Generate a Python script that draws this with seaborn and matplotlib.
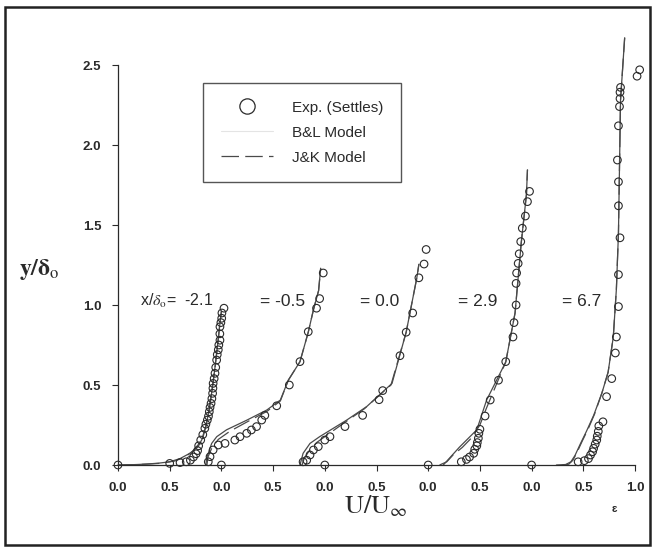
import numpy as np
import pandas as pd
import matplotlib
matplotlib.use("Agg")
import matplotlib.pyplot as plt
from matplotlib.lines import Line2D
from matplotlib.patches import Rectangle
import seaborn as sns

# ---------------- data ----------------
stations = ["-2.1", "-0.5", "0.0", "2.9", "6.7"]
offsets = [0.0, 1.0, 2.0, 3.0, 4.0]

# Experimental (Settles) profiles: U/Uinf and y/delta0
exp_U_1 = [0, 0.50, 0.60, 0.66, 0.70, 0.73, 0.755, 0.77, 0.78, 0.80, 0.82, 0.84, 0.85, 0.864,
           0.875, 0.883, 0.89, 0.90, 0.908, 0.915, 0.918, 0.92, 0.93, 0.938, 0.945, 0.954,
           0.96, 0.97, 0.975, 0.986, 0.985, 0.986, 0.995, 1.003, 1.005, 1.025]
exp_y_1 = [0, 0.01, 0.015, 0.02, 0.03, 0.05, 0.07, 0.09, 0.12, 0.156, 0.19, 0.229, 0.255, 0.281,
           0.305, 0.333, 0.36, 0.385, 0.415, 0.448, 0.48, 0.51, 0.54, 0.573, 0.61, 0.656,
           0.69, 0.72, 0.75, 0.78, 0.82, 0.864, 0.89, 0.917, 0.95, 0.98]
exp_U_2 = [0, -0.127, -0.11, -0.08, -0.03, 0.035, 0.13, 0.18, 0.245, 0.29, 0.34, 0.39, 0.42,
           0.535, 0.657, 0.76, 0.84, 0.92, 0.95, 0.985]
exp_y_2 = [0, 0.02, 0.052, 0.094, 0.125, 0.135, 0.156, 0.177, 0.198, 0.219, 0.24, 0.281, 0.31,
           0.37, 0.5, 0.646, 0.833, 0.98, 1.04, 1.2]
exp_U_3 = [0, -0.21, -0.175, -0.143, -0.11, -0.063, 0.0, 0.05, 0.195, 0.366, 0.525, 0.56,
           0.727, 0.787, 0.85, 0.91, 0.96, 0.98]
exp_y_3 = [0, 0.02, 0.03, 0.0625, 0.094, 0.115, 0.156, 0.177, 0.24, 0.31, 0.408, 0.465,
           0.683, 0.83, 0.95, 1.17, 1.256, 1.347]
exp_U_4 = [0, 0.32, 0.37, 0.40, 0.44, 0.45, 0.47, 0.475, 0.485, 0.49, 0.50, 0.55, 0.60, 0.68,
           0.75, 0.82, 0.83, 0.85, 0.85, 0.855, 0.87, 0.88, 0.895, 0.91, 0.94, 0.96, 0.98]
exp_y_4 = [0, 0.02, 0.035, 0.05, 0.073, 0.098, 0.12, 0.14, 0.167, 0.198, 0.223, 0.306, 0.406,
           0.53, 0.646, 0.80, 0.89, 1.0, 1.135, 1.2, 1.26, 1.32, 1.396, 1.48, 1.556, 1.646, 1.71]
exp_U_5 = [0, 0.45, 0.51, 0.55, 0.57, 0.59, 0.60, 0.615, 0.63, 0.635, 0.645, 0.65, 0.69, 0.725,
           0.775, 0.81, 0.82, 0.84, 0.84, 0.855, 0.84, 0.84, 0.83, 0.84, 0.85, 0.855, 0.855,
           0.86, 1.02, 1.045]
exp_y_5 = [0, 0.02, 0.027, 0.04, 0.0625, 0.083, 0.104, 0.13, 0.156, 0.18, 0.21, 0.244, 0.27,
           0.427, 0.54, 0.70, 0.80, 0.99, 1.19, 1.42, 1.62, 1.77, 1.906, 2.12, 2.24, 2.29, 2.33,
           2.36, 2.43, 2.47]

# B&L model profiles
bl_U_1 = [0, 0.15, 0.28, 0.40, 0.50, 0.60, 0.70, 0.775, 0.82, 0.85, 0.88, 0.91, 0.94, 0.965, 0.985, 1.0]
bl_y_1 = [0, 0.002, 0.006, 0.012, 0.02, 0.04, 0.075, 0.115, 0.17, 0.24, 0.34, 0.47, 0.62, 0.76, 0.88, 0.96]
bl_U_2 = [-0.15, -0.143, -0.094, -0.045, 0.05, 0.245, 0.44, 0.57, 0.647, 0.76, 0.84, 0.89, 0.94, 0.96]
bl_y_2 = [0.0, 0.043, 0.135, 0.177, 0.22, 0.28, 0.344, 0.406, 0.53, 0.646, 0.83, 0.97, 1.09, 1.23]
bl_U_3 = [-0.24, -0.21, -0.143, -0.05, 0.21, 0.405, 0.65, 0.787, 0.89, 0.91]
bl_y_3 = [0.0, 0.073, 0.135, 0.177, 0.28, 0.365, 0.51, 0.83, 1.17, 1.255]
bl_U_4 = [0.146, 0.30, 0.47, 0.565, 0.75, 0.84, 0.90, 0.95, 0.96]
bl_y_4 = [0, 0.11, 0.22, 0.406, 0.644, 0.95, 1.39, 1.69, 1.845]
bl_U_5 = [0.24, 0.33, 0.38, 0.42, 0.47, 0.53, 0.60, 0.68, 0.74, 0.79, 0.82, 0.84, 0.85, 0.86, 0.90]
bl_y_5 = [0, 0.003, 0.02, 0.06, 0.13, 0.21, 0.31, 0.45, 0.58, 0.80, 1.10, 1.45, 1.86, 2.28, 2.67]

# J&K model profiles
jk_U_1 = [0, 0.2, 0.4, 0.55, 0.65, 0.72, 0.78, 0.82, 0.85, 0.88, 0.91, 0.94, 0.965, 0.985, 1.0]
jk_y_1 = [0, 0.003, 0.01, 0.025, 0.05, 0.085, 0.13, 0.18, 0.245, 0.34, 0.47, 0.62, 0.76, 0.88, 0.96]
jk_U_2 = [-0.14, -0.13, -0.09, -0.03, 0.08, 0.25, 0.44, 0.57, 0.647, 0.76, 0.84, 0.89, 0.94, 0.96]
jk_y_2 = [0.0, 0.05, 0.11, 0.16, 0.21, 0.27, 0.335, 0.40, 0.53, 0.646, 0.83, 0.97, 1.09, 1.23]
jk_U_3 = [-0.22, -0.20, -0.15, -0.08, 0.18, 0.38, 0.64, 0.787, 0.89, 0.91]
jk_y_3 = [0.0, 0.04, 0.09, 0.14, 0.26, 0.35, 0.50, 0.83, 1.17, 1.255]
jk_U_4 = [0.11, 0.18, 0.24, 0.33, 0.42, 0.50, 0.56, 0.75, 0.84, 0.90, 0.95, 0.96]
jk_y_4 = [0, 0.02, 0.0625, 0.11, 0.17, 0.25, 0.35, 0.644, 0.95, 1.39, 1.69, 1.845]
jk_U_5 = [0.30, 0.36, 0.40, 0.44, 0.49, 0.55, 0.61, 0.68, 0.74, 0.79, 0.82, 0.84, 0.85, 0.86, 0.90]
jk_y_5 = [0, 0.005, 0.03, 0.08, 0.15, 0.23, 0.32, 0.45, 0.58, 0.80, 1.10, 1.45, 1.86, 2.28, 2.67]

xtick_pos = [0.0, 0.5, 1.0, 1.5, 2.0, 2.5, 3.0, 3.5, 4.0, 4.5, 5.0]
xtick_labels = ["0.0", "0.5", "0.0", "0.5", "0.0", "0.5", "0.0", "0.5", "0.0", "0.5", "1.0"]
ytick_pos = [0.0, 0.5, 1.0, 1.5, 2.0, 2.5]
ytick_labels = ["0.0", "0.5", "1.0", "1.5", "2.0", "2.5"]
station_label_x = [0.21, 1.37, 2.34, 3.29, 4.29]
station_label_y = 1.025

exp_U = [exp_U_1, exp_U_2, exp_U_3, exp_U_4, exp_U_5]
exp_y = [exp_y_1, exp_y_2, exp_y_3, exp_y_4, exp_y_5]
bl_U = [bl_U_1, bl_U_2, bl_U_3, bl_U_4, bl_U_5]
bl_y = [bl_y_1, bl_y_2, bl_y_3, bl_y_4, bl_y_5]
jk_U = [jk_U_1, jk_U_2, jk_U_3, jk_U_4, jk_U_5]
jk_y = [jk_y_1, jk_y_2, jk_y_3, jk_y_4, jk_y_5]


def build(Us, ys):
    frames = []
    for i, (u, y) in enumerate(zip(Us, ys)):
        frames.append(pd.DataFrame({"xp": np.asarray(u) + offsets[i], "y": y,
                                    "profile": stations[i]}))
    return pd.concat(frames, ignore_index=True)


exp_df = build(exp_U, exp_y)
bl_df = build(bl_U, bl_y)
jk_df = build(jk_U, jk_y)

# ---------------- style ----------------
sns.set_style("ticks")
plt.rcParams["font.family"] = ["Liberation Sans", "DejaVu Sans"]
plt.rcParams["mathtext.fontset"] = "stix"

ink = "#2a2a2a"
line_col = "#4a4a4a"
jk_dash = (0, (14, 5))

fig = plt.figure(figsize=(6.53, 5.47), dpi=100)
ax = fig.add_axes([118 / 653, 1 - 465 / 547, (635 - 118) / 653, 400 / 547])

sns.lineplot(data=bl_df, x="xp", y="y", units="profile", estimator=None, sort=False,
             color=line_col, lw=0.9, ax=ax, clip_on=False, legend=False)
sns.lineplot(data=jk_df, x="xp", y="y", units="profile", estimator=None, sort=False,
             color=line_col, lw=0.9, ax=ax, clip_on=False, legend=False,
             dashes=False)
for ln in ax.lines[len(stations):]:
    ln.set_linestyle(jk_dash)

sns.scatterplot(data=exp_df, x="xp", y="y", marker="o", s=30, facecolors="none",
                edgecolors=ink, linewidths=0.8, ax=ax, clip_on=False, legend=False, zorder=3)
for coll in ax.collections:
    coll.set_facecolor("none")
    coll.set_edgecolor(ink)

ax.set_xlim(0, 5)
ax.set_ylim(0, 2.5)
ax.set_xticks(xtick_pos)
ax.set_xticklabels(xtick_labels)
ax.set_yticks(ytick_pos)
ax.set_yticklabels(ytick_labels)
ax.tick_params(direction="out", length=4, width=0.8, color=ink, labelsize=9.5,
               labelcolor=ink, pad=8)
for lab in ax.get_xticklabels() + ax.get_yticklabels():
    lab.set_fontweight("bold")
ax.set_xlabel("")
ax.set_ylabel("")
sns.despine(ax=ax)
for sp in ("left", "bottom"):
    ax.spines[sp].set_color(ink)
    ax.spines[sp].set_linewidth(0.9)

# station labels
ax.text(station_label_x[0], station_label_y, r"x/$\delta_{\rm o}$=  -2.1", fontsize=11.5,
        color=ink, va="center", ha="left")
for i in range(1, len(stations)):
    ax.text(station_label_x[i], station_label_y, "= " + stations[i], fontsize=12.5,
            color=ink, va="center", ha="left")

# axis titles
fig.text(19 / 653, 1 - 269 / 547, r"$\mathbf{y/\delta}_{\mathrm{o}}$", fontsize=17,
         color=ink, ha="left", va="center", fontweight="bold")
fig.text(376 / 653, 1 - 506 / 547, r"$\mathrm{U/U_{\infty}}$", fontsize=19,
         color=ink, ha="center", va="center")
fig.text(614 / 653, 1 - 509 / 547, "ɛ", fontsize=8, color=ink, ha="center",
         va="center", fontweight="bold")

# legend
handles = [
    Line2D([], [], marker="o", ls="none", mfc="none", mec=ink, ms=11, mew=0.9),
    Line2D([], [], color="#e4e4e4", lw=0.8),
    Line2D([], [], color=line_col, lw=0.9, ls=jk_dash),
]
leg = ax.legend(handles, ["Exp. (Settles)", "B&L Model", "J&K Model"],
                loc="upper left", bbox_to_anchor=((203 - 118) / 517, (465 - 83) / 400),
                frameon=True, fancybox=False, framealpha=1, edgecolor="#555555",
                fontsize=11, handlelength=3.4, handletextpad=1.3, borderpad=1.15,
                labelspacing=0.72, borderaxespad=0)
leg.get_frame().set_linewidth(1.0)
for t in leg.get_texts():
    t.set_color(ink)

# outer frame of the scanned figure
fig.patches.append(Rectangle((5 / 653, 2 / 547), (650 - 5) / 653, (540 - 2) / 547,
                             transform=fig.transFigure, fill=False, edgecolor="#222222",
                             linewidth=1.8))

fig.savefig("out.png", dpi=100)
